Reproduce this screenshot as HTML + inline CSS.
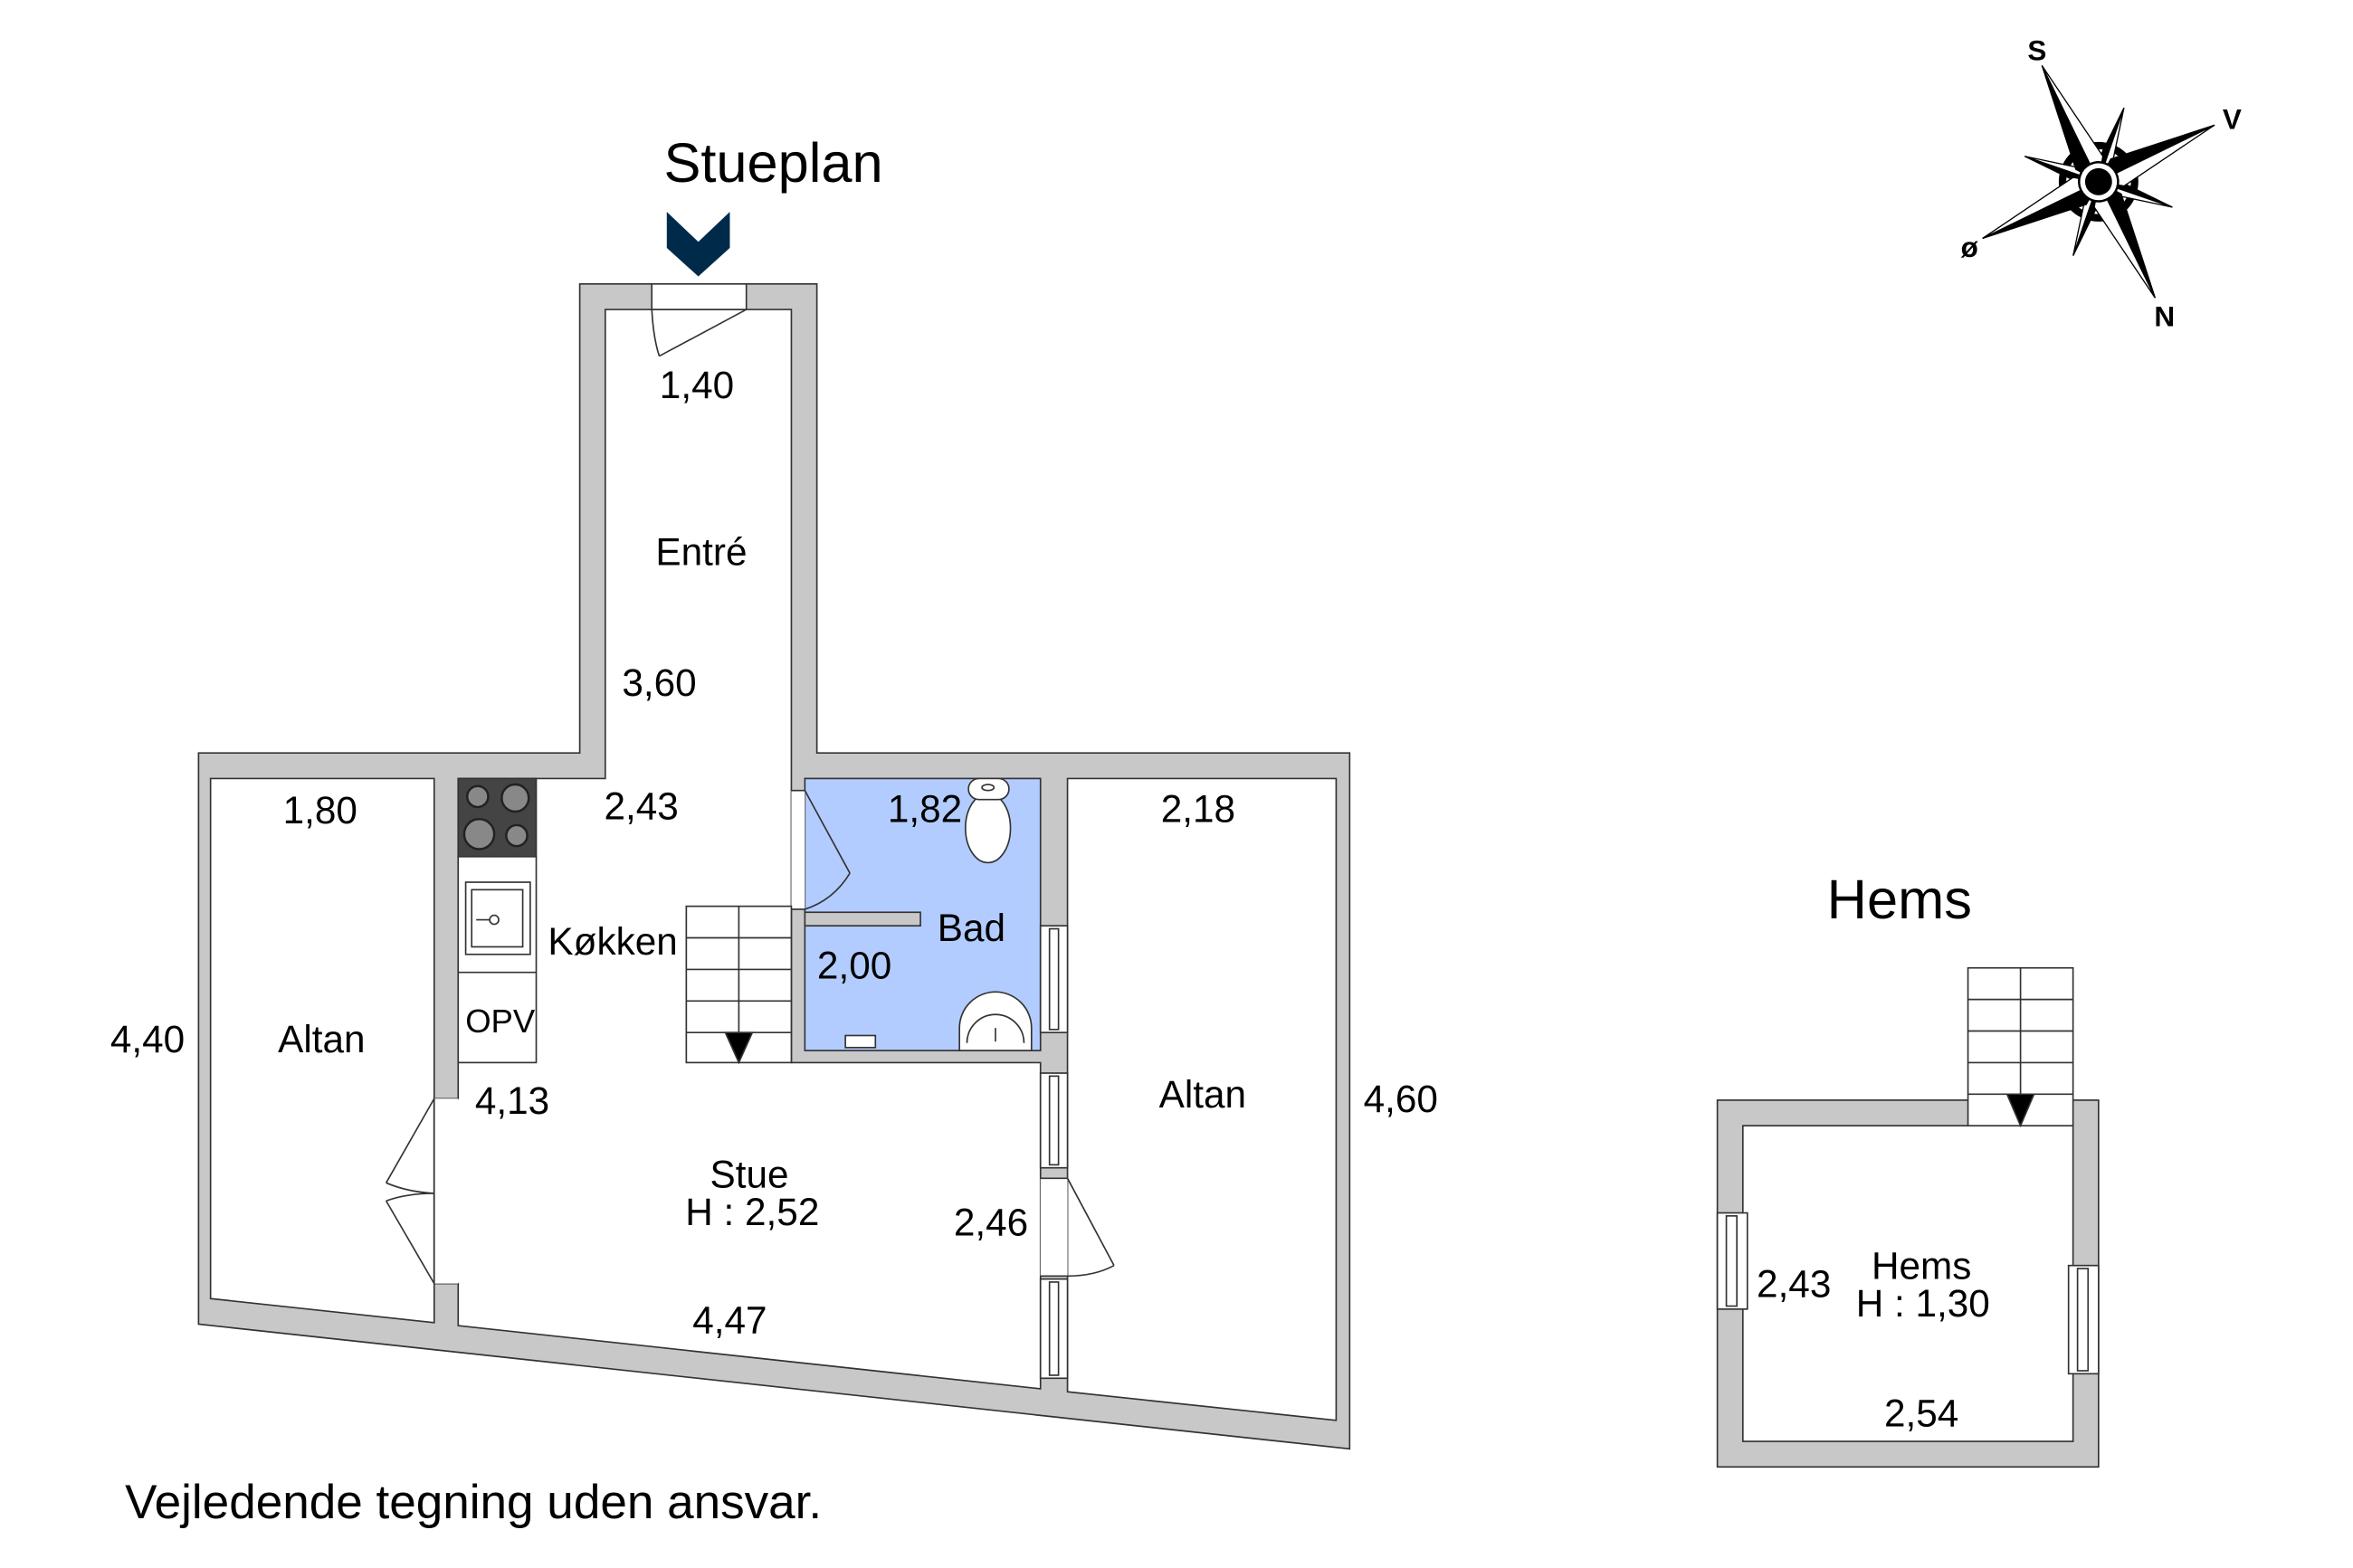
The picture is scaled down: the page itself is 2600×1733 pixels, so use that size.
<!DOCTYPE html>
<html><head><meta charset="utf-8"><style>
html,body{margin:0;padding:0;background:#fff}
svg{display:block}
text{font-family:"Liberation Sans",sans-serif;fill:#000}
</style></head><body>
<svg width="2600" height="1733" viewBox="0 0 1560 1040" preserveAspectRatio="none" xmlns="http://www.w3.org/2000/svg">
<g transform="translate(-0.7,-1.1) scale(0.995,0.997)">
<g stroke="#333" stroke-width="1">
<polygon points="387,190 545,190 545,502 900,502 900,965 133,882 133,502 387,502" fill="#c8c8c8"/>
<polygon points="141,519 290,519 290,881 141,865" fill="#fff"/>
<polygon points="404,207 528,207 528,708 694,708 694,925 306,883 306,855 290,855 290,732 306,732 306,519 404,519" fill="#fff"/>
<polygon points="712,519 891,519 891,946 712,927" fill="#fff"/>
<rect x="537" y="519" width="157" height="181" fill="#b3ccff"/>
<rect x="537" y="608" width="77" height="9" fill="#c8c8c8"/>
<rect x="435" y="190" width="63" height="17" fill="#fff"/>
<line x1="498" y1="207" x2="440" y2="238"/>
<path d="M435,207 Q436,226 440,238" fill="none"/>
<rect x="528" y="527" width="9" height="79" fill="#fff" stroke="none"/>
<line x1="528" y1="527" x2="537" y2="527"/><line x1="528" y1="606" x2="537" y2="606"/>
<line x1="537" y1="527" x2="567" y2="582"/>
<path d="M567,582 Q556,600 537,606" fill="none"/>
<rect x="290" y="732" width="16" height="123" fill="#fff" stroke="none"/>
<line x1="290" y1="732" x2="290" y2="855"/>
<line x1="290" y1="732" x2="258" y2="788"/>
<path d="M258,788 Q272,794 290,795" fill="none"/>
<line x1="290" y1="855" x2="258" y2="800"/>
<path d="M258,800 Q272,795 290,795" fill="none"/>
<rect x="694" y="785" width="18" height="65" fill="#fff" stroke="none"/>
<line x1="694" y1="785" x2="712" y2="785"/><line x1="694" y1="850" x2="712" y2="850"/>
<line x1="712" y1="785" x2="743" y2="843"/>
<path d="M743,843 Q730,850 712,850" fill="none"/>
<g fill="#fff">
<rect x="694" y="617" width="18" height="71"/><rect x="700" y="619" width="6" height="67"/>
<rect x="694" y="715" width="18" height="63"/><rect x="700" y="717" width="6" height="59"/>
<rect x="694" y="852" width="18" height="66"/><rect x="700" y="854" width="6" height="62"/>
</g>
<rect x="306" y="519" width="52" height="52" fill="#444"/>
<g fill="#888" stroke="#222" stroke-width="1.5">
<circle cx="319" cy="531" r="7"/><circle cx="344" cy="532" r="9"/>
<circle cx="320" cy="556" r="10"/><circle cx="345" cy="557" r="7"/>
</g>
<rect x="306" y="571" width="52" height="137" fill="#fff"/>
<line x1="306" y1="648" x2="358" y2="648"/>
<rect x="311" y="588" width="43" height="48" fill="#fff"/>
<rect x="315" y="593" width="34" height="38" fill="#fff"/>
<circle cx="330" cy="613" r="3" fill="#fff"/><line x1="318" y1="613" x2="327" y2="613"/>
<ellipse cx="659" cy="552" rx="15" ry="23" fill="#fff"/>
<rect x="646" y="519" width="27" height="14" rx="7" fill="#fff"/>
<ellipse cx="659" cy="525" rx="4" ry="2" fill="#fff"/>
<path d="M640,700 L640,685 A24,24 0 0 1 688,685 L688,700 Z" fill="#fff"/>
<path d="M645,695 A19,19 0 1 1 683,695" fill="none"/>
<line x1="664" y1="685" x2="664" y2="694"/>
<rect x="564" y="690" width="20" height="8" fill="#fff"/>
<rect x="458" y="604" width="70" height="104" fill="#fff"/>
<line x1="493" y1="604" x2="493" y2="708"/>
<line x1="458" y1="625" x2="528" y2="625"/><line x1="458" y1="646" x2="528" y2="646"/>
<line x1="458" y1="667" x2="528" y2="667"/><line x1="458" y1="688" x2="528" y2="688"/>
<polygon points="484,688 502,688 493,708" fill="#000"/>
<rect x="1145" y="733" width="254" height="244" fill="#c8c8c8"/>
<rect x="1162" y="750" width="220" height="210" fill="#fff"/>
<rect x="1312" y="645" width="70" height="105" fill="#fff"/>
<line x1="1347" y1="645" x2="1347" y2="750"/>
<line x1="1312" y1="666" x2="1382" y2="666"/><line x1="1312" y1="687" x2="1382" y2="687"/>
<line x1="1312" y1="708" x2="1382" y2="708"/><line x1="1312" y1="729" x2="1382" y2="729"/>
<polygon points="1338,729 1356,729 1347,750" fill="#000"/>
<g fill="#fff">
<rect x="1145" y="808" width="20" height="64"/><rect x="1151" y="810" width="7" height="60"/>
<rect x="1379" y="843" width="20" height="72"/><rect x="1385" y="845" width="7" height="68"/>
</g>
</g>
<polygon points="445,142 466,162 487,142 487,166 466,185 445,166" fill="#002a4a"/>
<g transform="translate(1399,122) rotate(-26)">
<circle r="24" fill="none" stroke="#000" stroke-width="5"/>
<g stroke="#000" stroke-width="0.8">
<g transform="rotate(45)"><polygon points="0,0 0,-52 -5,-12" fill="#000"/><polygon points="0,0 0,-52 5,-12" fill="#fff"/></g>
<g transform="rotate(135)"><polygon points="0,0 0,-52 -5,-12" fill="#000"/><polygon points="0,0 0,-52 5,-12" fill="#fff"/></g>
<g transform="rotate(225)"><polygon points="0,0 0,-52 -5,-12" fill="#000"/><polygon points="0,0 0,-52 5,-12" fill="#fff"/></g>
<g transform="rotate(315)"><polygon points="0,0 0,-52 -5,-12" fill="#000"/><polygon points="0,0 0,-52 5,-12" fill="#fff"/></g>
<g><polygon points="0,0 0,-86 -10,-14" fill="#000"/><polygon points="0,0 0,-86 10,-14" fill="#fff"/></g>
<g transform="rotate(90)"><polygon points="0,0 0,-86 -10,-14" fill="#000"/><polygon points="0,0 0,-86 10,-14" fill="#fff"/></g>
<g transform="rotate(180)"><polygon points="0,0 0,-86 -10,-14" fill="#000"/><polygon points="0,0 0,-86 10,-14" fill="#fff"/></g>
<g transform="rotate(270)"><polygon points="0,0 0,-86 -10,-14" fill="#000"/><polygon points="0,0 0,-86 10,-14" fill="#fff"/></g>
</g>
<circle r="13" fill="#fff" stroke="#000" stroke-width="1.5"/>
<circle r="9" fill="#000"/>
</g>
<g font-size="19" font-weight="bold" text-anchor="middle">
<text x="1358" y="41">S</text><text x="1488" y="87">V</text>
<text x="1313" y="172">ø</text><text x="1443" y="218">N</text>
</g>
<text x="443" y="122" font-size="37">Stueplan</text>
<text x="1218" y="612" font-size="37">Hems</text>
<g font-size="25.5" text-anchor="middle">
<text x="465" y="266">1,40</text>
<text x="468" y="377">Entré</text>
<text x="440" y="464">3,60</text>
<text x="214" y="549">1,80</text>
<text x="428" y="546">2,43</text>
<text x="617" y="548">1,82</text>
<text x="799" y="548">2,18</text>
<text x="409" y="636">Køkken</text>
<text x="648" y="627">Bad</text>
<text x="570" y="652">2,00</text>
<text x="99" y="701">4,40</text>
<text x="215" y="701">Altan</text>
<text x="802" y="738">Altan</text>
<text x="934" y="741">4,60</text>
<text x="342" y="742">4,13</text>
<text x="500" y="791">Stue</text>
<text x="502" y="816">H : 2,52</text>
<text x="661" y="823">2,46</text>
<text x="487" y="888">4,47</text>
<text x="1196" y="864">2,43</text>
<text x="1281" y="852">Hems</text>
<text x="1282" y="877">H : 1,30</text>
<text x="1281" y="950">2,54</text>
</g>
<text x="334" y="688" font-size="22" text-anchor="middle">OPV</text>
<text x="84" y="1011" font-size="32">Vejledende tegning uden ansvar.</text>
</g>
</svg>
</body></html>
